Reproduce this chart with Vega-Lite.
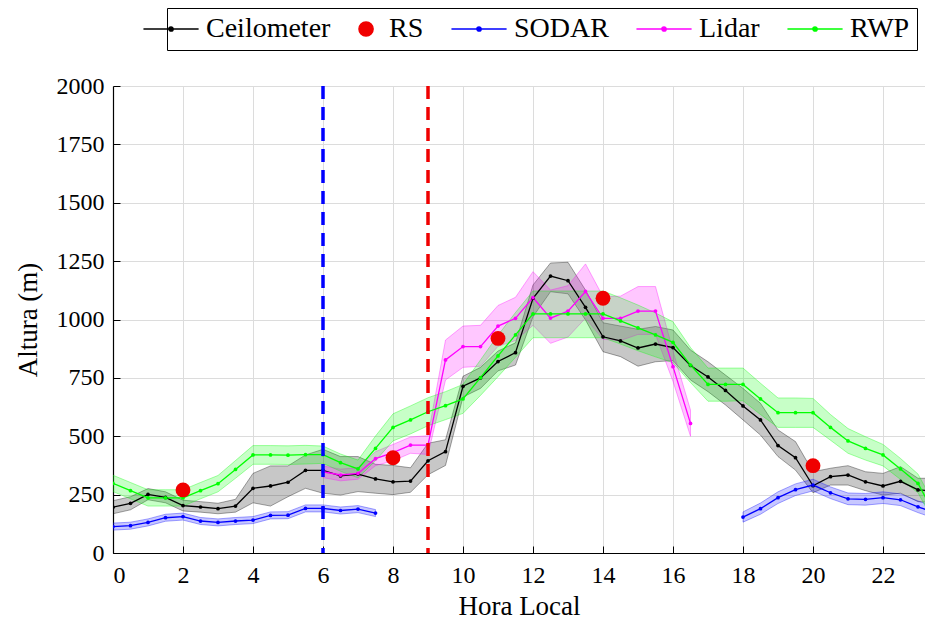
{
  "$schema": "https://vega.github.io/schema/vega-lite/v6.json",
  "width": 812,
  "height": 467,
  "autosize": "none",
  "padding": {"left": 113, "top": 86, "right": 0, "bottom": 66},
  "background": "white",
  "config": {
    "view": {"stroke": null},
    "font": "Liberation Serif",
    "axis": {
      "domainColor": "black", "domainWidth": 1.2, "tickColor": "black", "tickSize": -7, "tickWidth": 1,
      "labelFont": "Liberation Serif", "labelFontSize": 24, "labelColor": "black",
      "titleFont": "Liberation Serif", "titleFontSize": 27, "titleFontWeight": "normal", "titleColor": "black",
      "gridColor": "#dcdcdc", "gridWidth": 1
    }
  },
  "resolve": {"legend": {"color": "independent", "stroke": "independent", "shape": "independent"}},
  "datasets": {
    "obs": [
      {"s":"Ceilometer","g":"C","h":0,"v":196,"lo":168,"hi":224},
      {"s":"Ceilometer","g":"C","h":0.5,"v":213,"lo":185,"hi":241},
      {"s":"Ceilometer","g":"C","h":1,"v":251,"lo":228,"hi":276},
      {"s":"Ceilometer","g":"C","h":1.5,"v":238,"lo":215,"hi":262},
      {"s":"Ceilometer","g":"C","h":2,"v":203,"lo":180,"hi":226},
      {"s":"Ceilometer","g":"C","h":2.5,"v":197,"lo":175,"hi":220},
      {"s":"Ceilometer","g":"C","h":3,"v":190,"lo":168,"hi":213},
      {"s":"Ceilometer","g":"C","h":3.5,"v":201,"lo":175,"hi":230},
      {"s":"Ceilometer","g":"C","h":4,"v":277,"lo":215,"hi":341},
      {"s":"Ceilometer","g":"C","h":4.5,"v":287,"lo":201,"hi":373},
      {"s":"Ceilometer","g":"C","h":5,"v":303,"lo":241,"hi":373},
      {"s":"Ceilometer","g":"C","h":5.5,"v":354,"lo":277,"hi":420},
      {"s":"Ceilometer","g":"C","h":6,"v":354,"lo":256,"hi":444},
      {"s":"Ceilometer","g":"C","h":6.5,"v":330,"lo":248,"hi":413},
      {"s":"Ceilometer","g":"C","h":7,"v":338,"lo":263,"hi":413},
      {"s":"Ceilometer","g":"C","h":7.5,"v":317,"lo":256,"hi":380},
      {"s":"Ceilometer","g":"C","h":8,"v":305,"lo":250,"hi":375},
      {"s":"Ceilometer","g":"C","h":8.5,"v":308,"lo":260,"hi":365},
      {"s":"Ceilometer","g":"C","h":9,"v":395,"lo":335,"hi":470},
      {"s":"Ceilometer","g":"C","h":9.5,"v":434,"lo":375,"hi":485},
      {"s":"Ceilometer","g":"C","h":10,"v":714,"lo":668,"hi":757},
      {"s":"Ceilometer","g":"C","h":10.5,"v":750,"lo":705,"hi":795},
      {"s":"Ceilometer","g":"C","h":11,"v":820,"lo":780,"hi":865},
      {"s":"Ceilometer","g":"C","h":11.5,"v":858,"lo":805,"hi":900},
      {"s":"Ceilometer","g":"C","h":12,"v":1091,"lo":1012,"hi":1148},
      {"s":"Ceilometer","g":"C","h":12.5,"v":1186,"lo":1119,"hi":1242},
      {"s":"Ceilometer","g":"C","h":13,"v":1166,"lo":1110,"hi":1245},
      {"s":"Ceilometer","g":"C","h":13.5,"v":1052,"lo":998,"hi":1126},
      {"s":"Ceilometer","g":"C","h":14,"v":926,"lo":862,"hi":986},
      {"s":"Ceilometer","g":"C","h":14.5,"v":908,"lo":841,"hi":972},
      {"s":"Ceilometer","g":"C","h":15,"v":878,"lo":800,"hi":958},
      {"s":"Ceilometer","g":"C","h":15.5,"v":895,"lo":819,"hi":970},
      {"s":"Ceilometer","g":"C","h":16,"v":880,"lo":824,"hi":955},
      {"s":"Ceilometer","g":"C","h":16.5,"v":803,"lo":741,"hi":869},
      {"s":"Ceilometer","g":"C","h":17,"v":754,"lo":691,"hi":819},
      {"s":"Ceilometer","g":"C","h":17.5,"v":696,"lo":634,"hi":762},
      {"s":"Ceilometer","g":"C","h":18,"v":630,"lo":570,"hi":705},
      {"s":"Ceilometer","g":"C","h":18.5,"v":570,"lo":505,"hi":641},
      {"s":"Ceilometer","g":"C","h":19,"v":460,"lo":413,"hi":527},
      {"s":"Ceilometer","g":"C","h":19.5,"v":408,"lo":355,"hi":477},
      {"s":"Ceilometer","g":"C","h":20,"v":288,"lo":258,"hi":348},
      {"s":"Ceilometer","g":"C","h":20.5,"v":327,"lo":291,"hi":363},
      {"s":"Ceilometer","g":"C","h":21,"v":334,"lo":291,"hi":374},
      {"s":"Ceilometer","g":"C","h":21.5,"v":305,"lo":267,"hi":348},
      {"s":"Ceilometer","g":"C","h":22,"v":287,"lo":248,"hi":341},
      {"s":"Ceilometer","g":"C","h":22.5,"v":307,"lo":256,"hi":370},
      {"s":"Ceilometer","g":"C","h":23,"v":270,"lo":220,"hi":320},
      {"s":"Ceilometer","g":"C","h":23.5,"v":265,"lo":215,"hi":320},

      {"s":"RS","g":"R","h":2,"v":270},
      {"s":"RS","g":"R","h":8,"v":408},
      {"s":"RS","g":"R","h":11,"v":919},
      {"s":"RS","g":"R","h":14,"v":1091},
      {"s":"RS","g":"R","h":20,"v":374},

      {"s":"SODAR","g":"S1","h":0,"v":113,"lo":98,"hi":128},
      {"s":"SODAR","g":"S1","h":0.5,"v":117,"lo":102,"hi":132},
      {"s":"SODAR","g":"S1","h":1,"v":131,"lo":116,"hi":146},
      {"s":"SODAR","g":"S1","h":1.5,"v":151,"lo":136,"hi":166},
      {"s":"SODAR","g":"S1","h":2,"v":156,"lo":141,"hi":171},
      {"s":"SODAR","g":"S1","h":2.5,"v":137,"lo":122,"hi":152},
      {"s":"SODAR","g":"S1","h":3,"v":131,"lo":116,"hi":146},
      {"s":"SODAR","g":"S1","h":3.5,"v":137,"lo":122,"hi":152},
      {"s":"SODAR","g":"S1","h":4,"v":141,"lo":126,"hi":156},
      {"s":"SODAR","g":"S1","h":4.5,"v":161,"lo":146,"hi":176},
      {"s":"SODAR","g":"S1","h":5,"v":162,"lo":147,"hi":177},
      {"s":"SODAR","g":"S1","h":5.5,"v":191,"lo":176,"hi":206},
      {"s":"SODAR","g":"S1","h":6,"v":191,"lo":176,"hi":206},
      {"s":"SODAR","g":"S1","h":6.5,"v":182,"lo":167,"hi":197},
      {"s":"SODAR","g":"S1","h":7,"v":188,"lo":173,"hi":203},
      {"s":"SODAR","g":"S1","h":7.5,"v":171,"lo":156,"hi":186},
      {"s":"SODAR","g":"S2","h":18,"v":154,"lo":132,"hi":176},
      {"s":"SODAR","g":"S2","h":18.5,"v":190,"lo":166,"hi":214},
      {"s":"SODAR","g":"S2","h":19,"v":237,"lo":212,"hi":262},
      {"s":"SODAR","g":"S2","h":19.5,"v":271,"lo":246,"hi":296},
      {"s":"SODAR","g":"S2","h":20,"v":291,"lo":266,"hi":316},
      {"s":"SODAR","g":"S2","h":20.5,"v":258,"lo":233,"hi":283},
      {"s":"SODAR","g":"S2","h":21,"v":232,"lo":207,"hi":257},
      {"s":"SODAR","g":"S2","h":21.5,"v":230,"lo":205,"hi":255},
      {"s":"SODAR","g":"S2","h":22,"v":237,"lo":212,"hi":262},
      {"s":"SODAR","g":"S2","h":22.5,"v":228,"lo":203,"hi":253},
      {"s":"SODAR","g":"S2","h":23,"v":198,"lo":173,"hi":223},
      {"s":"SODAR","g":"S2","h":23.5,"v":172,"lo":147,"hi":197},

      {"s":"Lidar","g":"L","h":6,"v":348,"lo":323,"hi":373},
      {"s":"Lidar","g":"L","h":6.5,"v":334,"lo":309,"hi":359},
      {"s":"Lidar","g":"L","h":7,"v":341,"lo":316,"hi":366},
      {"s":"Lidar","g":"L","h":7.5,"v":404,"lo":374,"hi":434},
      {"s":"Lidar","g":"L","h":8,"v":430,"lo":395,"hi":465},
      {"s":"Lidar","g":"L","h":8.5,"v":462,"lo":427,"hi":497},
      {"s":"Lidar","g":"L","h":9,"v":462,"lo":422,"hi":502},
      {"s":"Lidar","g":"L","h":9.5,"v":827,"lo":741,"hi":912},
      {"s":"Lidar","g":"L","h":10,"v":884,"lo":795,"hi":972},
      {"s":"Lidar","g":"L","h":10.5,"v":884,"lo":800,"hi":975},
      {"s":"Lidar","g":"L","h":11,"v":972,"lo":885,"hi":1060},
      {"s":"Lidar","g":"L","h":11.5,"v":1005,"lo":910,"hi":1095},
      {"s":"Lidar","g":"L","h":12,"v":1094,"lo":975,"hi":1205},
      {"s":"Lidar","g":"L","h":12.5,"v":1006,"lo":898,"hi":1126},
      {"s":"Lidar","g":"L","h":13,"v":1036,"lo":925,"hi":1145},
      {"s":"Lidar","g":"L","h":13.5,"v":1120,"lo":1006,"hi":1238},
      {"s":"Lidar","g":"L","h":14,"v":1005,"lo":915,"hi":1098},
      {"s":"Lidar","g":"L","h":14.5,"v":1005,"lo":910,"hi":1100},
      {"s":"Lidar","g":"L","h":15,"v":1036,"lo":936,"hi":1141},
      {"s":"Lidar","g":"L","h":15.5,"v":1036,"lo":936,"hi":1141},
      {"s":"Lidar","g":"L","h":16,"v":798,"lo":735,"hi":865},
      {"s":"Lidar","g":"L","h":16.5,"v":555,"lo":500,"hi":612},

      {"s":"RWP","g":"W","h":0,"v":298,"lo":263,"hi":333},
      {"s":"RWP","g":"W","h":0.5,"v":267,"lo":232,"hi":302},
      {"s":"RWP","g":"W","h":1,"v":236,"lo":201,"hi":271},
      {"s":"RWP","g":"W","h":1.5,"v":236,"lo":201,"hi":271},
      {"s":"RWP","g":"W","h":2,"v":236,"lo":201,"hi":271},
      {"s":"RWP","g":"W","h":2.5,"v":267,"lo":232,"hi":302},
      {"s":"RWP","g":"W","h":3,"v":297,"lo":262,"hi":332},
      {"s":"RWP","g":"W","h":3.5,"v":358,"lo":320,"hi":396},
      {"s":"RWP","g":"W","h":4,"v":420,"lo":380,"hi":460},
      {"s":"RWP","g":"W","h":4.5,"v":420,"lo":380,"hi":460},
      {"s":"RWP","g":"W","h":5,"v":419,"lo":379,"hi":459},
      {"s":"RWP","g":"W","h":5.5,"v":421,"lo":381,"hi":461},
      {"s":"RWP","g":"W","h":6,"v":421,"lo":384,"hi":458},
      {"s":"RWP","g":"W","h":6.5,"v":387,"lo":350,"hi":424},
      {"s":"RWP","g":"W","h":7,"v":360,"lo":322,"hi":398},
      {"s":"RWP","g":"W","h":7.5,"v":448,"lo":395,"hi":501},
      {"s":"RWP","g":"W","h":8,"v":538,"lo":480,"hi":596},
      {"s":"RWP","g":"W","h":8.5,"v":570,"lo":510,"hi":630},
      {"s":"RWP","g":"W","h":9,"v":605,"lo":545,"hi":665},
      {"s":"RWP","g":"W","h":9.5,"v":631,"lo":571,"hi":691},
      {"s":"RWP","g":"W","h":10,"v":660,"lo":598,"hi":722},
      {"s":"RWP","g":"W","h":10.5,"v":751,"lo":675,"hi":827},
      {"s":"RWP","g":"W","h":11,"v":844,"lo":755,"hi":933},
      {"s":"RWP","g":"W","h":11.5,"v":934,"lo":838,"hi":1030},
      {"s":"RWP","g":"W","h":12,"v":1024,"lo":922,"hi":1122},
      {"s":"RWP","g":"W","h":12.5,"v":1024,"lo":922,"hi":1122},
      {"s":"RWP","g":"W","h":13,"v":1024,"lo":922,"hi":1122},
      {"s":"RWP","g":"W","h":13.5,"v":1024,"lo":922,"hi":1122},
      {"s":"RWP","g":"W","h":14,"v":1024,"lo":922,"hi":1122},
      {"s":"RWP","g":"W","h":14.5,"v":994,"lo":895,"hi":1093},
      {"s":"RWP","g":"W","h":15,"v":964,"lo":866,"hi":1062},
      {"s":"RWP","g":"W","h":15.5,"v":934,"lo":840,"hi":1028},
      {"s":"RWP","g":"W","h":16,"v":902,"lo":815,"hi":990},
      {"s":"RWP","g":"W","h":16.5,"v":805,"lo":730,"hi":880},
      {"s":"RWP","g":"W","h":17,"v":722,"lo":650,"hi":792},
      {"s":"RWP","g":"W","h":17.5,"v":722,"lo":650,"hi":792},
      {"s":"RWP","g":"W","h":18,"v":722,"lo":652,"hi":792},
      {"s":"RWP","g":"W","h":18.5,"v":660,"lo":593,"hi":727},
      {"s":"RWP","g":"W","h":19,"v":601,"lo":538,"hi":664},
      {"s":"RWP","g":"W","h":19.5,"v":601,"lo":538,"hi":664},
      {"s":"RWP","g":"W","h":20,"v":601,"lo":538,"hi":662},
      {"s":"RWP","g":"W","h":20.5,"v":538,"lo":483,"hi":593},
      {"s":"RWP","g":"W","h":21,"v":480,"lo":427,"hi":533},
      {"s":"RWP","g":"W","h":21.5,"v":448,"lo":398,"hi":498},
      {"s":"RWP","g":"W","h":22,"v":420,"lo":373,"hi":465},
      {"s":"RWP","g":"W","h":22.5,"v":360,"lo":315,"hi":405},
      {"s":"RWP","g":"W","h":23,"v":298,"lo":258,"hi":338},
      {"s":"RWP","g":"W","h":23.5,"v":160,"lo":120,"hi":200}
    ],
    "marks": [
      {"h": 6, "k": "start"},
      {"h": 9, "k": "end"}
    ]
  },
  "layer": [
    {
      "data": {"name": "obs"},
      "transform": [{"filter": "datum.s !== 'RS'"}],
      "mark": {"type": "area", "clip": true, "fillOpacity": 0.22, "strokeOpacity": 0.35, "strokeWidth": 1, "opacity": 1},
      "encoding": {
        "x": {
          "field": "h", "type": "quantitative", "title": "Hora Local",
          "scale": {"domain": [0, 23.2], "nice": false, "zero": false},
          "axis": {"values": [0,2,4,6,8,10,12,14,16,18,20,22], "labelPadding": 17, "titlePadding": 6, "grid": true}
        },
        "y": {
          "field": "lo", "type": "quantitative", "title": "Altura (m)",
          "scale": {"domain": [0, 2000], "nice": false},
          "axis": {"values": [0,250,500,750,1000,1250,1500,1750,2000], "format": "d", "labelPadding": 16, "titlePadding": 14, "grid": true}
        },
        "y2": {"field": "hi"},
        "detail": {"field": "g"},
        "color": {"field": "s", "type": "nominal", "legend": null,
          "scale": {"domain": ["Ceilometer","RS","SODAR","Lidar","RWP"], "range": ["#000000","#f00000","#0000ff","#ff00ff","#00ff00"]}},
        "stroke": {"field": "s", "type": "nominal", "legend": null,
          "scale": {"domain": ["Ceilometer","RS","SODAR","Lidar","RWP"], "range": ["#000000","#f00000","#0000ff","#ff00ff","#00ff00"]}}
      }
    },
    {
      "data": {"name": "obs"},
      "transform": [{"filter": "datum.s !== 'RS'"}],
      "mark": {"type": "line", "clip": true, "strokeWidth": 1.3, "opacity": 1},
      "encoding": {
        "x": {"field": "h", "type": "quantitative"},
        "y": {"field": "v", "type": "quantitative"},
        "detail": {"field": "g"},
        "color": {"field": "s", "type": "nominal", "legend": null}
      }
    },
    {
      "data": {"name": "obs"},
      "transform": [{"filter": "datum.s !== 'RS'"}],
      "mark": {"type": "circle", "clip": true, "size": 14, "opacity": 1},
      "encoding": {
        "x": {"field": "h", "type": "quantitative"},
        "y": {"field": "v", "type": "quantitative"},
        "color": {"field": "s", "type": "nominal", "legend": null}
      }
    },
    {
      "data": {"name": "marks"},
      "transform": [{"filter": "datum.k === 'start'"}],
      "mark": {"type": "rule", "color": "#0000ff", "strokeWidth": 3.5, "strokeDash": [13, 8]},
      "encoding": {"x": {"field": "h", "type": "quantitative"}}
    },
    {
      "data": {"name": "marks"},
      "transform": [{"filter": "datum.k === 'end'"}],
      "mark": {"type": "rule", "color": "#f00000", "strokeWidth": 3.5, "strokeDash": [13, 8]},
      "encoding": {"x": {"field": "h", "type": "quantitative"}}
    },
    {
      "data": {"name": "obs"},
      "transform": [{"filter": "datum.s === 'RS'"}],
      "mark": {"type": "circle", "size": 220, "opacity": 1},
      "encoding": {
        "x": {"field": "h", "type": "quantitative"},
        "y": {"field": "v", "type": "quantitative"},
        "color": {"field": "s", "type": "nominal", "legend": null}
      }
    },
    {
      "data": {"name": "obs"},
      "transform": [{"filter": "datum.s === 'none'"}],
      "mark": {"type": "point", "filled": true, "size": 220, "strokeWidth": 1.5, "opacity": 1},
      "encoding": {
        "x": {"field": "h", "type": "quantitative"},
        "y": {"field": "v", "type": "quantitative"},
        "color": {"field": "s", "type": "nominal",
          "legend": {
            "title": null, "orient": "none", "legendX": 54, "legendY": -78, "direction": "horizontal",
            "strokeColor": "black", "fillColor": "white", "padding": 7, "labelFont": "Liberation Serif",
            "labelFontSize": 28, "labelColor": "black", "symbolSize": 200, "labelOffset": 4, "columnPadding": 24,
            "symbolStrokeWidth": 1.5
          }},
        "stroke": {"field": "s", "type": "nominal", "legend": {"title": null}},
        "shape": {"field": "s", "type": "nominal", "legend": {"title": null},
          "scale": {"domain": ["Ceilometer","RS","SODAR","Lidar","RWP"],
            "range": ["M-6.3,0H1.5M-2.7,0A0.3,0.3,0,1,0,-2.1,0A0.3,0.3,0,1,0,-2.7,0", "M-1.7,0A1,1,0,1,0,0.3,0A1,1,0,1,0,-1.7,0", "M-6.3,0H1.5M-2.7,0A0.3,0.3,0,1,0,-2.1,0A0.3,0.3,0,1,0,-2.7,0", "M-6.3,0H1.5M-2.7,0A0.3,0.3,0,1,0,-2.1,0A0.3,0.3,0,1,0,-2.7,0", "M-6.3,0H1.5M-2.7,0A0.3,0.3,0,1,0,-2.1,0A0.3,0.3,0,1,0,-2.7,0"]}}
      }
    }
  ]
}
